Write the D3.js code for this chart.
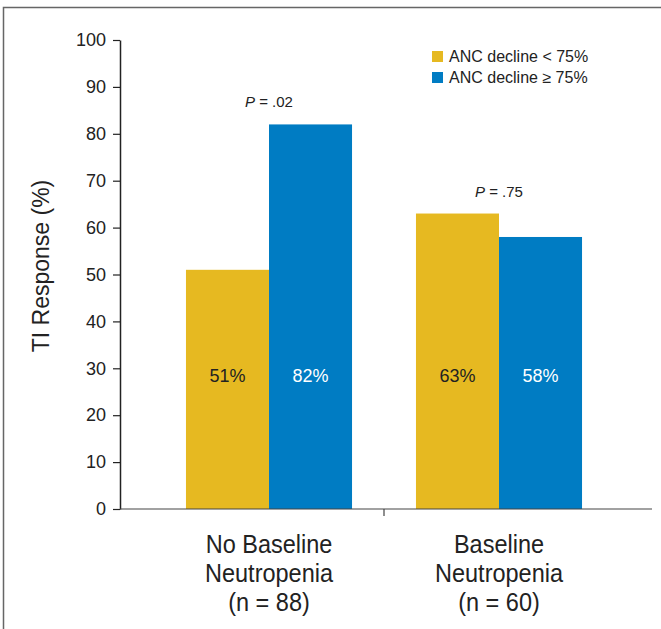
<!DOCTYPE html>
<html>
<head>
<meta charset="utf-8">
<script src="https://cdn.jsdelivr.net/npm/d3@7"></script>
<style>
  body { margin: 0; background: #fff; }
  svg { display: block; font-family: "Liberation Sans", Arial, sans-serif; }
</style>
</head>
<body>
<svg id="chart" width="661" height="629"></svg>
<script>
// ---- data ----
const groups = ['No Baseline Neutropenia', 'Baseline Neutropenia'];
const groupLines = [['No Baseline', 'Neutropenia', '(n = 88)'], ['Baseline', 'Neutropenia', '(n = 60)']];
const seriesKeys = ['lt75', 'ge75'];
const seriesLabels = ['ANC decline < 75%', 'ANC decline \u2265 75%'];
const lt75 = [51, 63];
const ge75 = [82, 58];
const pValues = ['.02', '.75'];
const yTicks = [0, 10, 20, 30, 40, 50, 60, 70, 80, 90, 100];

const COLORS = { lt75: '#E6B921', ge75: '#007CC3' };
const LABEL_COLORS = { lt75: '#222', ge75: '#fff' };

const svg = d3.select('#chart');

// frame
svg.append('rect').attr('x', 3.5).attr('y', 7.5).attr('width', 700).attr('height', 700)
  .attr('fill', 'none').attr('stroke', '#666').attr('stroke-width', 1.5);

const y = d3.scaleLinear().domain([0, 100]).range([509, 40]);
const x0 = d3.scaleBand().domain(groups).range([154, 614]).paddingInner(0.278).paddingOuter(0.139);
const x1 = d3.scaleBand().domain(seriesKeys).range([0, x0.bandwidth()]);

const data = groups.map((g, i) => ({ group: g, lt75: lt75[i], ge75: ge75[i], p: pValues[i], lines: groupLines[i] }));

// bars
const gGroup = svg.append('g').selectAll('g').data(data).join('g')
  .attr('transform', d => `translate(${x0(d.group)},0)`);

gGroup.selectAll('rect')
  .data(d => seriesKeys.map(k => ({ key: k, value: d[k] })))
  .join('rect')
    .attr('x', d => x1(d.key))
    .attr('y', d => y(d.value))
    .attr('width', x1.bandwidth())
    .attr('height', d => y(0) - y(d.value))
    .attr('fill', d => COLORS[d.key]);

gGroup.selectAll('text.val')
  .data(d => seriesKeys.map(k => ({ key: k, value: d[k] })))
  .join('text')
    .attr('class', 'val')
    .attr('x', d => x1(d.key) + x1.bandwidth() / 2)
    .attr('y', 382)
    .attr('text-anchor', 'middle')
    .attr('fill', d => LABEL_COLORS[d.key]).attr('font-size', 18)
    .text(d => `${d.value}%`);

// P values above the taller bar
gGroup.append('text')
  .attr('x', x0.bandwidth() / 2)
  .attr('y', d => y(Math.max(d.lt75, d.ge75)) - 17)
  .attr('text-anchor', 'middle')
  .attr('font-size', 15).attr('fill', '#222')
  .call(t => t.append('tspan').attr('font-style', 'italic').text('P'))
  .call(t => t.append('tspan').text(d => ` = ${d.p}`));

// y axis
const yAxis = svg.append('g').attr('transform', 'translate(120,0)')
  .call(d3.axisLeft(y).tickValues(yTicks).tickSize(7).tickPadding(7).tickSizeOuter(0));
yAxis.select('.domain').attr('stroke', '#222').attr('stroke-width', 1.5);
yAxis.selectAll('.tick line').attr('stroke', '#222').attr('stroke-width', 1.2);
yAxis.selectAll('.tick text').attr('font-size', 18).attr('fill', '#222')
  .attr('font-family', '"Liberation Sans", Arial, sans-serif');

svg.append('text')
  .attr('transform', 'translate(49,266) rotate(-90)')
  .attr('text-anchor', 'middle')
  .attr('font-size', 23).attr('fill', '#222')
  .text('TI Response (%)');

// x axis
svg.append('line').attr('x1', 120).attr('x2', 652).attr('y1', y(0)).attr('y2', y(0))
  .attr('stroke', '#444').attr('stroke-width', 1.2);
const midTick = (x0(groups[0]) + x0.bandwidth() + x0(groups[1])) / 2;
svg.append('line').attr('x1', midTick).attr('x2', midTick).attr('y1', y(0)).attr('y2', y(0) + 7)
  .attr('stroke', '#444').attr('stroke-width', 1.2);

// condensed category labels (squeezed a little horizontally)
const lab = svg.append('g').selectAll('text').data(data).join('text')
  .attr('transform', d => `translate(${x0(d.group) + x0.bandwidth() / 2},0) scale(0.94,1)`)
  .attr('text-anchor', 'middle')
  .attr('font-size', 25).attr('fill', '#222');
lab.selectAll('tspan').data(d => d.lines)
  .join('tspan')
    .attr('x', 0)
    .attr('y', (d, i) => 553 + i * 29)
    .text(d => d);

// legend
const leg = svg.append('g').attr('transform', 'translate(432,51)');
const li = leg.selectAll('g').data(seriesKeys).join('g')
  .attr('transform', (d, i) => `translate(0,${i * 21})`);
li.append('rect').attr('width', 11).attr('height', 11).attr('fill', d => COLORS[d]);
li.append('text').attr('x', 17).attr('y', 11).attr('font-size', 16).attr('fill', '#222')
  .text((d, i) => seriesLabels[i]);
</script>
</body>
</html>
